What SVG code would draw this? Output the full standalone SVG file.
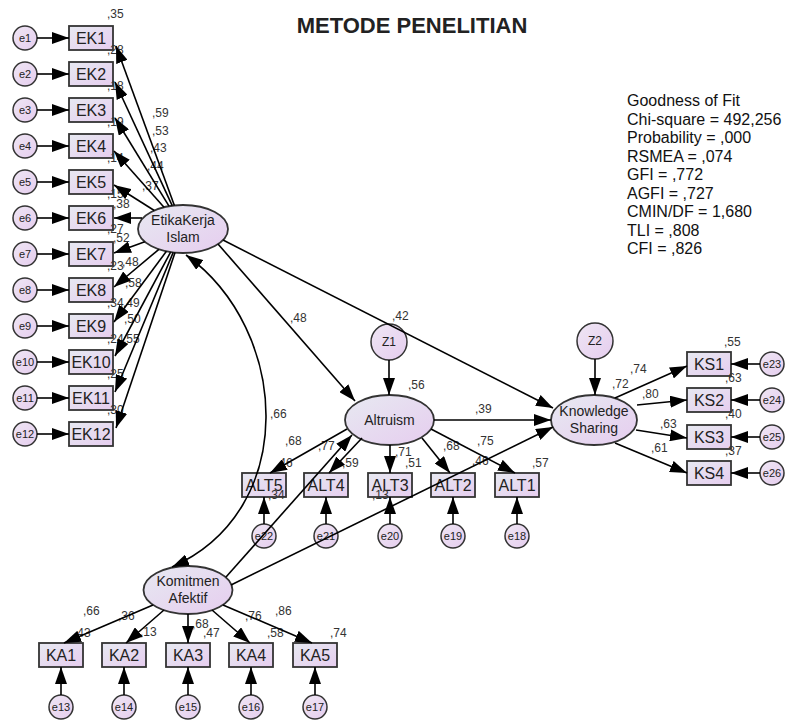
<svg xmlns="http://www.w3.org/2000/svg" width="791" height="720" viewBox="0 0 791 720">
<defs>
<linearGradient id="g" x1="0" y1="0" x2="1" y2="1"><stop offset="0" stop-color="#e7e9f1"/><stop offset="1" stop-color="#e6cdef"/></linearGradient>
<linearGradient id="gc" x1="0" y1="0" x2="1" y2="1"><stop offset="0" stop-color="#efe6f4"/><stop offset="1" stop-color="#e5cdee"/></linearGradient>
<marker id="ah" markerUnits="userSpaceOnUse" markerWidth="17" markerHeight="12" refX="17" refY="6" orient="auto-start-reverse"><path d="M0,0 L17,6 L0,12 z" fill="#000"/></marker>
</defs>
<style>
.box{fill:url(#g);stroke:#333;stroke-width:1.8}
.ell{fill:url(#g);stroke:#333;stroke-width:1.8}
.err{fill:url(#gc);stroke:#333;stroke-width:1.5}
text{font-family:"Liberation Sans",Arial,sans-serif;fill:#222}
.bt{font-size:16px;text-anchor:middle}
.et{font-size:14px;text-anchor:middle}
.ct{font-size:11px;text-anchor:middle}
.zt{font-size:12px;text-anchor:middle}
.n{font-size:12px;fill:#333}
.fit{font-size:16px;fill:#111}
.c line,.c path{stroke:#000;stroke-width:1.6;fill:none;marker-end:url(#ah)}
.c path.dbl{marker-start:url(#ah)}
</style>
<rect width="791" height="720" fill="#fff"/>
<text x="412" y="33" style="font-size:22px;font-weight:bold;text-anchor:middle" fill="#000">METODE PENELITIAN</text>
<g id="fit" class="fit">
<text x="627" y="106" class="fit">Goodness of Fit</text>
<text x="627" y="125" class="fit">Chi-square = 492,256</text>
<text x="627" y="143" class="fit">Probability = ,000</text>
<text x="627" y="162" class="fit">RSMEA = ,074</text>
<text x="627" y="180" class="fit">GFI = ,772</text>
<text x="627" y="199" class="fit">AGFI = ,727</text>
<text x="627" y="217" class="fit">CMIN/DF = 1,680</text>
<text x="627" y="236" class="fit">TLI = ,808</text>
<text x="627" y="254" class="fit">CFI = ,826</text>
</g>
<!-- EK indicators -->
<g id="EK1"><rect class="box" x="69" y="26" width="44" height="24"/><text class="bt" x="91" y="44">EK1</text></g>
<g id="EK2"><rect class="box" x="69" y="62" width="44" height="24"/><text class="bt" x="91" y="80">EK2</text></g>
<g id="EK3"><rect class="box" x="69" y="98" width="44" height="24"/><text class="bt" x="91" y="116">EK3</text></g>
<g id="EK4"><rect class="box" x="69" y="134" width="44" height="24"/><text class="bt" x="91" y="152">EK4</text></g>
<g id="EK5"><rect class="box" x="69" y="170" width="44" height="24"/><text class="bt" x="91" y="188">EK5</text></g>
<g id="EK6"><rect class="box" x="69" y="206" width="44" height="24"/><text class="bt" x="91" y="224">EK6</text></g>
<g id="EK7"><rect class="box" x="69" y="242" width="44" height="24"/><text class="bt" x="91" y="260">EK7</text></g>
<g id="EK8"><rect class="box" x="69" y="278" width="44" height="24"/><text class="bt" x="91" y="296">EK8</text></g>
<g id="EK9"><rect class="box" x="69" y="314" width="44" height="24"/><text class="bt" x="91" y="332">EK9</text></g>
<g id="EK10"><rect class="box" x="69" y="350" width="44" height="24"/><text class="bt" x="91" y="368">EK10</text></g>
<g id="EK11"><rect class="box" x="69" y="386" width="44" height="24"/><text class="bt" x="91" y="404">EK11</text></g>
<g id="EK12"><rect class="box" x="69" y="422" width="44" height="24"/><text class="bt" x="91" y="440">EK12</text></g>
<g id="e1"><circle class="err" cx="25" cy="38" r="12"/><text class="ct" x="25" y="42">e1</text></g>
<g id="e2"><circle class="err" cx="25" cy="74" r="12"/><text class="ct" x="25" y="78">e2</text></g>
<g id="e3"><circle class="err" cx="25" cy="110" r="12"/><text class="ct" x="25" y="114">e3</text></g>
<g id="e4"><circle class="err" cx="25" cy="146" r="12"/><text class="ct" x="25" y="150">e4</text></g>
<g id="e5"><circle class="err" cx="25" cy="182" r="12"/><text class="ct" x="25" y="186">e5</text></g>
<g id="e6"><circle class="err" cx="25" cy="218" r="12"/><text class="ct" x="25" y="222">e6</text></g>
<g id="e7"><circle class="err" cx="25" cy="254" r="12"/><text class="ct" x="25" y="258">e7</text></g>
<g id="e8"><circle class="err" cx="25" cy="290" r="12"/><text class="ct" x="25" y="294">e8</text></g>
<g id="e9"><circle class="err" cx="25" cy="326" r="12"/><text class="ct" x="25" y="330">e9</text></g>
<g id="e10"><circle class="err" cx="25" cy="362" r="12"/><text class="ct" x="25" y="366">e10</text></g>
<g id="e11"><circle class="err" cx="25" cy="398" r="12"/><text class="ct" x="25" y="402">e11</text></g>
<g id="e12"><circle class="err" cx="25" cy="434" r="12"/><text class="ct" x="25" y="438">e12</text></g>
<!-- latent -->
<g id="EtikaKerjaIslam"><ellipse class="ell" cx="183" cy="229" rx="45" ry="24"/><text class="et" x="183" y="225">EtikaKerja</text><text class="et" x="183" y="242">Islam</text></g>
<g id="Altruism"><ellipse class="ell" cx="389.5" cy="420" rx="44.5" ry="25"/><text class="et" x="389.5" y="425">Altruism</text></g>
<g id="KnowledgeSharing"><ellipse class="ell" cx="594" cy="420" rx="43" ry="25"/><text class="et" x="594" y="416">Knowledge</text><text class="et" x="594" y="433">Sharing</text></g>
<g id="KomitmenAfektif"><ellipse class="ell" cx="188" cy="590" rx="44.5" ry="24"/><text class="et" x="188" y="586">Komitmen</text><text class="et" x="188" y="603">Afektif</text></g>
<g id="Z1"><circle class="err" cx="389" cy="342" r="18"/><text class="zt" x="389" y="346">Z1</text></g>
<g id="Z2"><circle class="err" cx="595" cy="341" r="18"/><text class="zt" x="595" y="345">Z2</text></g>
<!-- ALT -->
<g id="ALT5"><rect class="box" x="242" y="473" width="44" height="24"/><text class="bt" x="264" y="491">ALT5</text></g>
<g id="ALT4"><rect class="box" x="304" y="473" width="44" height="24"/><text class="bt" x="326" y="491">ALT4</text></g>
<g id="ALT3"><rect class="box" x="368" y="473" width="44" height="24"/><text class="bt" x="390" y="491">ALT3</text></g>
<g id="ALT2"><rect class="box" x="431" y="473" width="44" height="24"/><text class="bt" x="453" y="491">ALT2</text></g>
<g id="ALT1"><rect class="box" x="495" y="473" width="44" height="24"/><text class="bt" x="517" y="491">ALT1</text></g>
<g id="e22"><circle class="err" cx="264" cy="536" r="12"/><text class="ct" x="264" y="540">e22</text></g>
<g id="e21"><circle class="err" cx="326" cy="536" r="12"/><text class="ct" x="326" y="540">e21</text></g>
<g id="e20"><circle class="err" cx="390" cy="536" r="12"/><text class="ct" x="390" y="540">e20</text></g>
<g id="e19"><circle class="err" cx="453" cy="536" r="12"/><text class="ct" x="453" y="540">e19</text></g>
<g id="e18"><circle class="err" cx="517" cy="536" r="12"/><text class="ct" x="517" y="540">e18</text></g>
<!-- KS -->
<g id="KS1"><rect class="box" x="687" y="352" width="44" height="24"/><text class="bt" x="709" y="370">KS1</text></g>
<g id="KS2"><rect class="box" x="687" y="388" width="44" height="24"/><text class="bt" x="709" y="406">KS2</text></g>
<g id="KS3"><rect class="box" x="687" y="425" width="44" height="24"/><text class="bt" x="709" y="443">KS3</text></g>
<g id="KS4"><rect class="box" x="687" y="461" width="44" height="24"/><text class="bt" x="709" y="479">KS4</text></g>
<g id="e23"><circle class="err" cx="772" cy="364" r="12"/><text class="ct" x="772" y="368">e23</text></g>
<g id="e24"><circle class="err" cx="772" cy="400" r="12"/><text class="ct" x="772" y="404">e24</text></g>
<g id="e25"><circle class="err" cx="772" cy="437" r="12"/><text class="ct" x="772" y="441">e25</text></g>
<g id="e26"><circle class="err" cx="772" cy="473" r="12"/><text class="ct" x="772" y="477">e26</text></g>
<!-- KA -->
<g id="KA1"><rect class="box" x="39" y="643" width="44" height="24"/><text class="bt" x="61" y="661">KA1</text></g>
<g id="KA2"><rect class="box" x="102" y="643" width="44" height="24"/><text class="bt" x="124" y="661">KA2</text></g>
<g id="KA3"><rect class="box" x="166" y="643" width="44" height="24"/><text class="bt" x="188" y="661">KA3</text></g>
<g id="KA4"><rect class="box" x="229" y="643" width="44" height="24"/><text class="bt" x="251" y="661">KA4</text></g>
<g id="KA5"><rect class="box" x="293" y="643" width="44" height="24"/><text class="bt" x="315" y="661">KA5</text></g>
<g id="e13"><circle class="err" cx="61" cy="707" r="12"/><text class="ct" x="61" y="711">e13</text></g>
<g id="e14"><circle class="err" cx="124" cy="707" r="12"/><text class="ct" x="124" y="711">e14</text></g>
<g id="e15"><circle class="err" cx="188" cy="707" r="12"/><text class="ct" x="188" y="711">e15</text></g>
<g id="e16"><circle class="err" cx="251" cy="707" r="12"/><text class="ct" x="251" y="711">e16</text></g>
<g id="e17"><circle class="err" cx="315" cy="707" r="12"/><text class="ct" x="315" y="711">e17</text></g>
<!-- estimate labels -->
<g id="labels" class="n">
<text class="n" x="107" y="18">,35</text>
<text class="n" x="107" y="54">,28</text>
<text class="n" x="107" y="90">,18</text>
<text class="n" x="107" y="126">,19</text>
<text class="n" x="107" y="162">,14</text>
<text class="n" x="107" y="198">,15</text>
<text class="n" x="107" y="233">,27</text>
<text class="n" x="107" y="270">,23</text>
<text class="n" x="107" y="307">,34</text>
<text class="n" x="107" y="343">,24</text>
<text class="n" x="107" y="378">,25</text>
<text class="n" x="107" y="414">,30</text>
<text class="n" x="152" y="117">,59</text>
<text class="n" x="152" y="135">,53</text>
<text class="n" x="150" y="152">,43</text>
<text class="n" x="147" y="170">,44</text>
<text class="n" x="142" y="190">,37</text>
<text class="n" x="113" y="208">,38</text>
<text class="n" x="113" y="242">,52</text>
<text class="n" x="122" y="266">,48</text>
<text class="n" x="125" y="287">,58</text>
<text class="n" x="123" y="307">,49</text>
<text class="n" x="124" y="323">,50</text>
<text class="n" x="123" y="343">,55</text>
<text class="n" x="290" y="322">,48</text>
<text class="n" x="392" y="320">,42</text>
<text class="n" x="408" y="389">,56</text>
<text class="n" x="475" y="413">,39</text>
<text class="n" x="270" y="418">,66</text>
<text class="n" x="285" y="445">,68</text>
<text class="n" x="276" y="467">,46</text>
<text class="n" x="318" y="450">,77</text>
<text class="n" x="342" y="467">,59</text>
<text class="n" x="395" y="456">,71</text>
<text class="n" x="405" y="467">,51</text>
<text class="n" x="443" y="450">,68</text>
<text class="n" x="472" y="465">,46</text>
<text class="n" x="477" y="445">,75</text>
<text class="n" x="532" y="467">,57</text>
<text class="n" x="268" y="499">,34</text>
<text class="n" x="372" y="499">,13</text>
<text class="n" x="612" y="388">,72</text>
<text class="n" x="630" y="373">,74</text>
<text class="n" x="642" y="398">,80</text>
<text class="n" x="660" y="428">,63</text>
<text class="n" x="651" y="452">,61</text>
<text class="n" x="724" y="346">,55</text>
<text class="n" x="725" y="382">,63</text>
<text class="n" x="725" y="418">,40</text>
<text class="n" x="725" y="455">,37</text>
<text class="n" x="83" y="615">,66</text>
<text class="n" x="74" y="637">,43</text>
<text class="n" x="118" y="620">,36</text>
<text class="n" x="140" y="636">,13</text>
<text class="n" x="192" y="628">,68</text>
<text class="n" x="203" y="637">,47</text>
<text class="n" x="245" y="620">,76</text>
<text class="n" x="267" y="637">,58</text>
<text class="n" x="275" y="615">,86</text>
<text class="n" x="330" y="637">,74</text>
</g>
<!-- connectors -->
<g id="connectors" class="c">
<line x1="37" y1="38" x2="69" y2="38"/>
<line x1="37" y1="74" x2="69" y2="74"/>
<line x1="37" y1="110" x2="69" y2="110"/>
<line x1="37" y1="146" x2="69" y2="146"/>
<line x1="37" y1="182" x2="69" y2="182"/>
<line x1="37" y1="218" x2="69" y2="218"/>
<line x1="37" y1="254" x2="69" y2="254"/>
<line x1="37" y1="290" x2="69" y2="290"/>
<line x1="37" y1="326" x2="69" y2="326"/>
<line x1="37" y1="362" x2="69" y2="362"/>
<line x1="37" y1="398" x2="69" y2="398"/>
<line x1="37" y1="434" x2="69" y2="434"/>
<line x1="174.4" y1="205.5" x2="116" y2="46"/>
<line x1="172.2" y1="205.7" x2="115" y2="82"/>
<line x1="169" y1="206.2" x2="115" y2="118"/>
<line x1="164" y1="207.2" x2="114" y2="151"/>
<line x1="154.3" y1="210.5" x2="114" y2="185"/>
<line x1="142" y1="218" x2="114" y2="218"/>
<line x1="144.8" y1="241.7" x2="114" y2="253"/>
<line x1="158.9" y1="249.3" x2="114" y2="287"/>
<line x1="166.4" y1="251.3" x2="114" y2="322"/>
<line x1="170.6" y1="252.1" x2="115" y2="356"/>
<line x1="173.2" y1="252.4" x2="115" y2="392"/>
<line x1="175" y1="252.6" x2="116" y2="428"/>
<path class="dbl" d="M186,255 C290,330 300,510 172,567"/>
<line x1="218" y1="244" x2="355" y2="401"/>
<line x1="223" y1="240" x2="553" y2="408"/>
<line x1="226" y1="577" x2="352" y2="435"/>
<line x1="231" y1="585" x2="553" y2="427"/>
<line x1="389" y1="360" x2="389" y2="395"/>
<line x1="595" y1="359" x2="595" y2="395"/>
<line x1="434" y1="420" x2="551" y2="420"/>
<line x1="347" y1="429" x2="270" y2="473"/>
<line x1="362" y1="438" x2="329" y2="473"/>
<line x1="390" y1="445" x2="390" y2="473"/>
<line x1="422" y1="438" x2="450" y2="473"/>
<line x1="431" y1="429" x2="515" y2="473"/>
<line x1="264" y1="524" x2="264" y2="497"/>
<line x1="326" y1="524" x2="326" y2="497"/>
<line x1="390" y1="524" x2="390" y2="497"/>
<line x1="453" y1="524" x2="453" y2="497"/>
<line x1="517" y1="524" x2="517" y2="497"/>
<line x1="615" y1="398" x2="687" y2="366"/>
<line x1="637" y1="405" x2="687" y2="400"/>
<line x1="636" y1="430" x2="687" y2="438"/>
<line x1="615" y1="443" x2="687" y2="473"/>
<line x1="760" y1="364" x2="731" y2="364"/>
<line x1="760" y1="400" x2="731" y2="400"/>
<line x1="760" y1="437" x2="731" y2="437"/>
<line x1="760" y1="473" x2="731" y2="473"/>
<line x1="153" y1="605" x2="64" y2="643"/>
<line x1="164" y1="610" x2="126" y2="643"/>
<line x1="188" y1="614" x2="188" y2="643"/>
<line x1="212" y1="610" x2="250" y2="643"/>
<line x1="223" y1="605" x2="312" y2="643"/>
<line x1="61" y1="695" x2="61" y2="667"/>
<line x1="124" y1="695" x2="124" y2="667"/>
<line x1="188" y1="695" x2="188" y2="667"/>
<line x1="251" y1="695" x2="251" y2="667"/>
<line x1="315" y1="695" x2="315" y2="667"/>
</g>
</svg>
